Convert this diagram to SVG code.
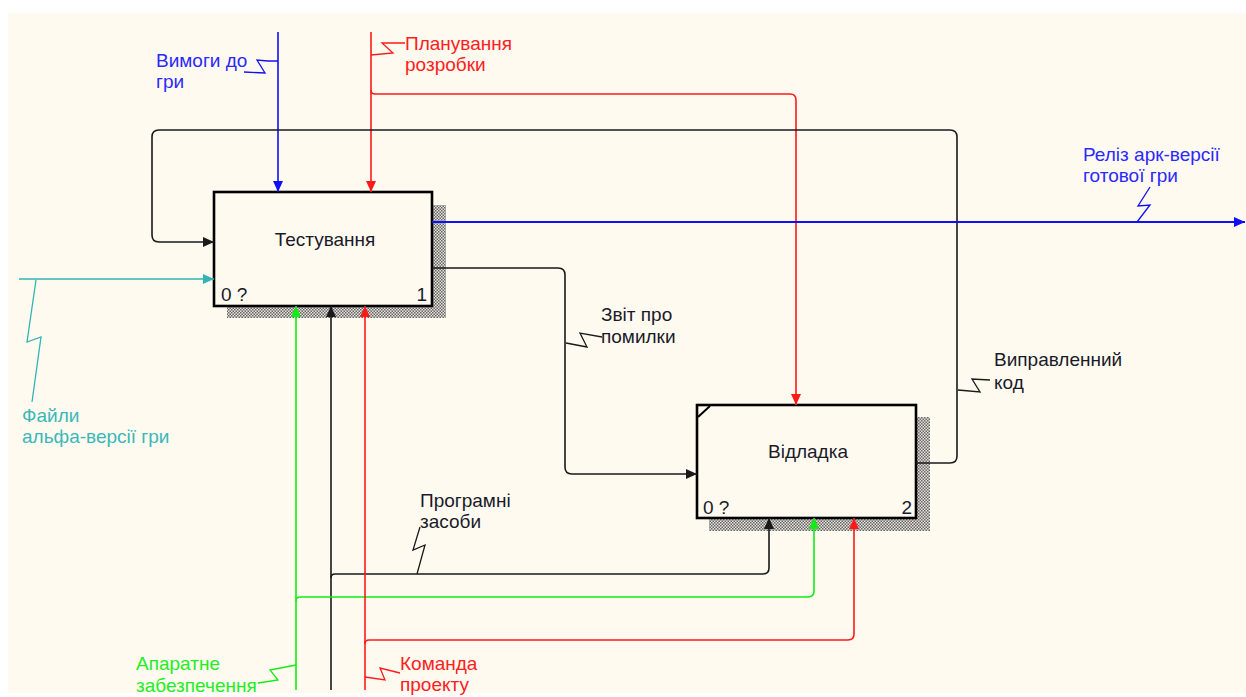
<svg xmlns="http://www.w3.org/2000/svg" width="1246" height="697" viewBox="0 0 1246 697">
<style>
text{font-family:"Liberation Sans",Arial,sans-serif;font-size:19px}
.c{fill:none;stroke-width:1.6}
.k{stroke:#1a1a1a}.b{stroke:#1010f5}.r{stroke:#ff1a1a}.g{stroke:#11ee11}.t{stroke:#30b4b4}
.sq{fill:none;stroke-width:1.3}
.tk{fill:#1a1a2a}.tb{fill:#2a2aff}.tr{fill:#ff2020}.tg{fill:#22ee22}.tt{fill:#3ab8b8}
.box{fill:#fffaf0;stroke:#000;stroke-width:2.6}
.sh{fill:url(#hatch)}
</style>
<defs>
<pattern id="hatch" width="3" height="3" patternUnits="userSpaceOnUse">
<rect width="3" height="3" fill="#e6e3db"/>
<rect x="0" y="0" width="1.5" height="1.5" fill="#666"/>
<rect x="1.5" y="1.5" width="1.5" height="1.5" fill="#666"/>
</pattern>
<marker id="ak" markerUnits="userSpaceOnUse" markerWidth="12" markerHeight="12" refX="11" refY="6" orient="auto"><path d="M0,1 L11,6 L0,11z" fill="#1a1a1a"/></marker>
<marker id="ab" markerUnits="userSpaceOnUse" markerWidth="12" markerHeight="12" refX="11" refY="6" orient="auto"><path d="M0,1 L11,6 L0,11z" fill="#1010f5"/></marker>
<marker id="ar" markerUnits="userSpaceOnUse" markerWidth="12" markerHeight="12" refX="11" refY="6" orient="auto"><path d="M0,1 L11,6 L0,11z" fill="#ff1a1a"/></marker>
<marker id="ag" markerUnits="userSpaceOnUse" markerWidth="12" markerHeight="12" refX="11" refY="6" orient="auto"><path d="M0,1 L11,6 L0,11z" fill="#11ee11"/></marker>
<marker id="at" markerUnits="userSpaceOnUse" markerWidth="12" markerHeight="12" refX="11" refY="6" orient="auto"><path d="M0,1 L11,6 L0,11z" fill="#30b4b4"/></marker>
</defs>
<rect width="1246" height="697" fill="#ffffff"/>
<rect x="8" y="13" width="1238" height="680" fill="#fffaf0"/>

<g id="node-testing">
<rect class="sh" x="432" y="205" width="14" height="113"/>
<rect class="sh" x="227" y="306" width="219" height="12"/>
<rect class="box" x="214" y="192" width="218" height="114"/>
<text x="325" y="246" text-anchor="middle" class="tk">Тестування</text>
<text x="221" y="301" class="tk">0 ?</text>
<text x="427" y="301" text-anchor="end" class="tk">1</text>
</g>

<g id="node-debug">
<rect class="sh" x="916" y="417" width="14" height="114"/>
<rect class="sh" x="709" y="518" width="221" height="13"/>
<rect class="box" x="697" y="405" width="219" height="113"/>
<path d="M698,417 L710,406" stroke="#000" stroke-width="2" fill="none"/>
<text x="808" y="458" text-anchor="middle" class="tk">Відладка</text>
<text x="703" y="514" class="tk">0 ?</text>
<text x="912" y="514" text-anchor="end" class="tk">2</text>
</g>

<g id="connectors">
<path class="c b" d="M278,32 V192" marker-end="url(#ab)"/>
<path class="c r" d="M371,32 V192" marker-end="url(#ar)"/>
<path class="c r" d="M371,90 Q371,94 375,94 H790 Q796,94 796,100 V405" marker-end="url(#ar)"/>
<path class="c k" d="M916,463 H950 Q957,463 957,456 V137 Q957,130 950,130 H159 Q152,130 152,137 V235 Q152,242 159,242 H214" marker-end="url(#ak)"/>
<path class="c b" style="stroke-width:2" d="M432,222 H1245" marker-end="url(#ab)"/>
<path class="c t" d="M19,279 H214" marker-end="url(#at)"/>
<path class="c k" d="M432,268 H558 Q565,268 565,275 V467 Q565,474 572,474 H697" marker-end="url(#ak)"/>
<path class="c k" d="M331,690 V306" marker-end="url(#ak)"/>
<path class="c k" d="M331,578 Q331,574 335,574 H763 Q769,574 769,568 V518" marker-end="url(#ak)"/>
<path class="c g" d="M296,690 V306" marker-end="url(#ag)"/>
<path class="c g" d="M296,601 Q296,597 300,597 H808 Q814,597 814,591 V518" marker-end="url(#ag)"/>
<path class="c r" d="M365,690 V306" marker-end="url(#ar)"/>
<path class="c r" d="M365,644 Q365,640 369,640 H848 Q854,640 854,634 V518" marker-end="url(#ar)"/>
<polyline class="sq b" points="278,61 268,61 257,60 265,73 244,72"/>
<polyline class="sq r" points="371,55 393,53 382,43 405,43"/>
<polyline class="sq t" points="36,280 27,342 41,337 32,402"/>
<polyline class="sq b" points="1137,222 1150,205 1138,206 1150,187"/>
<polyline class="sq k" points="566,343 587,347 580,333 602,337"/>
<polyline class="sq k" points="958,390 980,392 972,379 990,380"/>
<polyline class="sq k" points="417,574 425,545 413,550 420,527"/>
<polyline class="sq g" points="296,665 270,670 278,680 258,683"/>
<polyline class="sq r" points="365,677 385,680 380,668 400,673"/>
</g>

<g id="labels">
<text x="156" y="67" class="tb">Вимоги до</text>
<text x="156" y="88" class="tb">гри</text>
<text x="405" y="50" class="tr">Планування</text>
<text x="405" y="71" class="tr">розробки</text>
<text x="1083" y="161" class="tb">Реліз арк-версії</text>
<text x="1083" y="182" class="tb">готової гри</text>
<text x="22" y="422" class="tt">Файли</text>
<text x="22" y="443" class="tt">альфа-версії гри</text>
<text x="601" y="321" class="tk">Звіт про</text>
<text x="601" y="343" class="tk">помилки</text>
<text x="994" y="366" class="tk">Виправленний</text>
<text x="994" y="389" class="tk">код</text>
<text x="420" y="507" class="tk">Програмні</text>
<text x="420" y="528" class="tk">засоби</text>
<text x="136" y="670" class="tg">Апаратне</text>
<text x="136" y="692" class="tg">забезпечення</text>
<text x="400" y="670" class="tr">Команда</text>
<text x="400" y="691" class="tr">проекту</text>
</g>
</svg>
